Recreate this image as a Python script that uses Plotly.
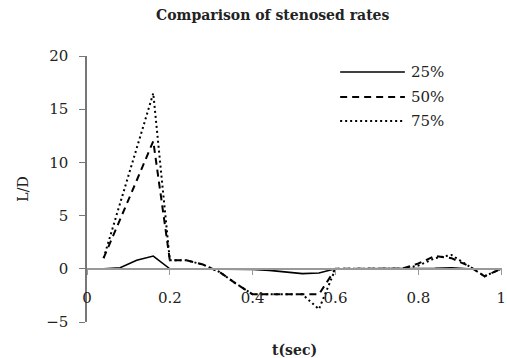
import plotly.graph_objects as go

# ---- data ----
t = [0.04, 0.08, 0.12, 0.16, 0.20, 0.24, 0.28, 0.32, 0.36, 0.40, 0.44, 0.48, 0.52,
     0.56, 0.60, 0.64, 0.68, 0.72, 0.76, 0.80, 0.84, 0.88, 0.92, 0.96, 1.00]
rate25 = [0, 0.1, 0.8, 1.2, 0, 0, 0, 0, 0, -0.05, -0.15, -0.3, -0.45,
          -0.4, 0, 0, 0, 0, 0, 0, 0.05, 0.1, 0, 0, 0]
rate50 = [1.0, 4.6, 8.3, 12.0, 0.8, 0.8, 0.4, -0.3, -1.4, -2.4, -2.4, -2.4, -2.4,
          -2.4, 0, 0, 0, 0, 0, 0.5, 1.2, 1.0, 0.3, -0.7, 0]
rate75 = [1.0, 6.2, 11.3, 16.5, 0.8, 0.8, 0.4, -0.3, -1.4, -2.4, -2.4, -2.4, -2.4,
          -3.8, 0, 0, 0, 0, 0, 0.3, 1.0, 1.3, 0.3, -0.7, 0]
series_names = ["25%", "50%", "75%"]
x_ticks = [0, 0.2, 0.4, 0.6, 0.8, 1]
x_tick_labels = ["0", "0.2", "0.4", "0.6", "0.8", "1"]
y_ticks = [-5, 0, 5, 10, 15, 20]

FONT = "DejaVu Serif"
dashes = ["solid", "7px,5px", "2px,3px"]
widths = [1.6, 2, 2]

fig = go.Figure()
for name, vals, d, w in zip(series_names, [rate25, rate50, rate75], dashes, widths):
    fig.add_trace(go.Scatter(x=t, y=vals, mode="lines", name=name,
                             line=dict(color="black", width=w, dash=d),
                             showlegend=False, cliponaxis=False))

# custom legend (line samples + text)
leg_y = [0.94, 0.846, 0.756]
for name, d, w, yy in zip(series_names, dashes, widths, leg_y):
    fig.add_shape(type="line", xref="paper", yref="paper", x0=0.61, x1=0.766,
                  y0=yy, y1=yy, line=dict(color="black", width=w, dash=d))
    fig.add_annotation(xref="paper", yref="paper", x=0.775, y=yy, text=name,
                       showarrow=False, xanchor="left", yanchor="middle",
                       font=dict(family=FONT, size=15, color="#222"))

# x-axis title
fig.add_annotation(xref="paper", yref="paper", x=0.5, y=-0.105, text="<b>t(sec)</b>",
                   showarrow=False, xanchor="center", yanchor="middle",
                   font=dict(family=FONT, size=14, color="#222"))

fig.update_layout(
    width=507, height=358,
    margin=dict(l=87, r=5, t=56, b=36, autoexpand=False),
    paper_bgcolor="white", plot_bgcolor="white",
    title=dict(text="<b>Comparison of stenosed rates</b>", x=0.538, y=0.958,
               xanchor="center", yanchor="middle", automargin=False,
               font=dict(family=FONT, size=14, color="#222")),
    xaxis=dict(range=[0, 1.002], tickvals=x_ticks, ticktext=x_tick_labels,
               anchor="free", position=0.2, showgrid=False, zeroline=False,
               showline=True, linecolor="#999", linewidth=1.5,
               ticks="outside", ticklen=5, tickcolor="#999",
               ticklabelstandoff=10, automargin=False,
               ticklabeloverflow="allow",
               tickfont=dict(family=FONT, size=15, color="#222")),
    yaxis=dict(range=[-5, 20], tickvals=y_ticks, showgrid=False, zeroline=False,
               showline=True, linecolor="#777", linewidth=1.5,
               ticks="outside", ticklen=6, tickcolor="#777",
               ticklabelstandoff=8, automargin=False,
               tickfont=dict(family=FONT, size=15, color="#222"),
               title=dict(text="L/D", standoff=14,
                          font=dict(family=FONT, size=14, color="#222"))),
)

# remove the default 8px page margin so the figure fills the window exactly
fig.write_html("out.html",
               config={"displayModeBar": False},
               post_script="document.body.style.margin='0';document.body.style.overflow='hidden';")
